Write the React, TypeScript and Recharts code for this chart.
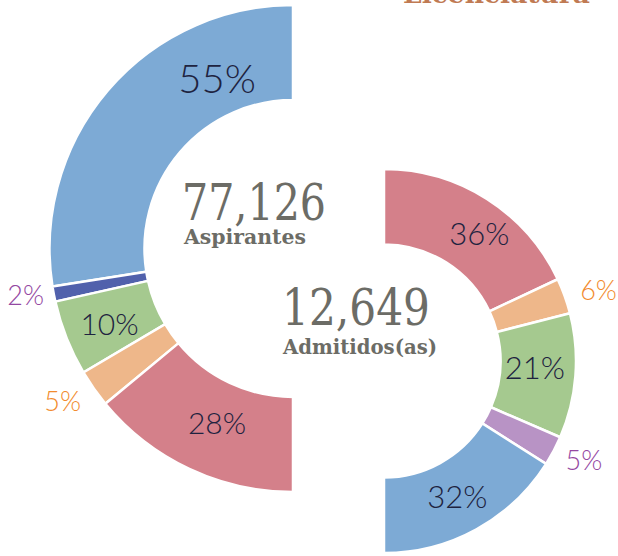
import React from 'react';
import { PieChart, Pie, Cell } from 'recharts';

// ---- Data ----
const aspirantesCategorias = ['Grupo 1', 'Grupo 2', 'Grupo 3', 'Grupo 4', 'Grupo 5'];
const aspirantesValores = [55, 2, 10, 5, 28];
const aspirantesColores = ['#7DAAD5', '#5161AC', '#A5C98F', '#EEB78A', '#D4808A'];

const admitidosCategorias = ['Grupo 5', 'Grupo 4', 'Grupo 3', 'Grupo 6', 'Grupo 1'];
const admitidosValores = [36, 6, 21, 5, 32];
const admitidosColores = ['#D4808A', '#EEB78A', '#A5C98F', '#B893C5', '#7DAAD5'];

const totalAspirantes = '77,126';
const etiquetaAspirantes = 'Aspirantes';
const totalAdmitidos = '12,649';
const etiquetaAdmitidos = 'Admitidos(as)';
const titulo = 'Licenciatura';

const aspirantesData = aspirantesCategorias.map((name, i) => ({ name, value: aspirantesValores[i] }));
const admitidosData = admitidosCategorias.map((name, i) => ({ name, value: admitidosValores[i] }));

// ---- Style ----
const RAD = Math.PI / 180;
const LABEL_FONT = 'Lato, "Open Sans", sans-serif';
const SERIF = '"DejaVu Serif", serif';
const INSIDE_COLOR = '#1E2340';
const PURPLE_TEXT = '#9448A2';
const ORANGE_TEXT = '#F28B2E';
const CENTER_GRAY = '#6C6C66';

type LabelStyle = { angle: number; dr: number; size: number; color: string };

// label placement (angle in degrees, radial offset from the ring's outer edge)
const leftLabelStyle: LabelStyle[] = [
  { angle: 114, dr: -57, size: 40, color: INSIDE_COLOR },
  { angle: 190, dr: 28, size: 27, color: PURPLE_TEXT },
  { angle: 202.4, dr: -45, size: 30, color: INSIDE_COLOR },
  { angle: 213.6, dr: 33, size: 27, color: ORANGE_TEXT },
  { angle: 246.5, dr: -53, size: 30, color: INSIDE_COLOR },
];
const rightLabelStyle: LabelStyle[] = [
  { angle: 53.2, dr: -33, size: 31, color: INSIDE_COLOR },
  { angle: 18.3, dr: 34, size: 27, color: ORANGE_TEXT },
  { angle: -2.7, dr: -41, size: 31, color: INSIDE_COLOR },
  { angle: -26.3, dr: 31, size: 27, color: PURPLE_TEXT },
  { angle: -61.6, dr: -38, size: 31, color: INSIDE_COLOR },
];

function makeLabel(styles: LabelStyle[]) {
  return (props: any) => {
    const { cx, cy, outerRadius, value, index } = props;
    const s = styles[index];
    const r = outerRadius + s.dr;
    const x = cx + r * Math.cos(-s.angle * RAD);
    const y = cy + r * Math.sin(-s.angle * RAD);
    return (
      <text
        x={x}
        y={y + s.size * 0.36}
        textAnchor="middle"
        fill={s.color}
        fontFamily={LABEL_FONT}
        fontWeight={300}
        fontSize={s.size}
      >
        {`${value}%`}
      </text>
    );
  };
}

const leftLabel = makeLabel(leftLabelStyle);
const rightLabel = makeLabel(rightLabelStyle);

export default function App() {
  return (
    <div style={{ position: 'absolute', left: 0, top: 0, width: 618, height: 556, background: '#fff' }}>
      <PieChart width={618} height={556} margin={{ top: 0, right: 0, bottom: 0, left: 0 }}>
        <Pie
          data={aspirantesData}
          dataKey="value"
          nameKey="name"
          cx={293}
          cy={248.5}
          innerRadius={148.5}
          outerRadius={243.5}
          startAngle={90}
          endAngle={270}
          stroke="#ffffff"
          strokeWidth={2.5}
          labelLine={false}
          label={leftLabel}
          isAnimationActive={false}
        >
          {aspirantesData.map((d, i) => (
            <Cell key={d.name + i} fill={aspirantesColores[i]} />
          ))}
        </Pie>
        <Pie
          data={admitidosData}
          dataKey="value"
          nameKey="name"
          cx={384}
          cy={361}
          innerRadius={116.5}
          outerRadius={192}
          startAngle={90}
          endAngle={-90}
          stroke="#ffffff"
          strokeWidth={2.5}
          labelLine={false}
          label={rightLabel}
          isAnimationActive={false}
        >
          {admitidosData.map((d, i) => (
            <Cell key={d.name + i} fill={admitidosColores[i]} />
          ))}
        </Pie>
      </PieChart>
      <svg
        width={618}
        height={556}
        style={{ position: 'absolute', left: 0, top: 0, pointerEvents: 'none' }}
      >
        <text x={403} y={3} fontFamily={SERIF} fontWeight="bold" fontSize={24} fill="#C07A53"
          textLength={187} lengthAdjust="spacingAndGlyphs">{titulo}</text>
        <text x={182} y={220} fontFamily={SERIF} fontSize={50} fill={CENTER_GRAY}
          textLength={144} lengthAdjust="spacingAndGlyphs">{totalAspirantes}</text>
        <text x={184} y={244} fontFamily={SERIF} fontWeight="bold" fontSize={20} fill={CENTER_GRAY}
          textLength={122} lengthAdjust="spacingAndGlyphs">{etiquetaAspirantes}</text>
        <text x={282} y={325} fontFamily={SERIF} fontSize={50} fill={CENTER_GRAY}
          textLength={148} lengthAdjust="spacingAndGlyphs">{totalAdmitidos}</text>
        <text x={283} y={354} fontFamily={SERIF} fontWeight="bold" fontSize={21} fill={CENTER_GRAY}
          textLength={154} lengthAdjust="spacingAndGlyphs">{etiquetaAdmitidos}</text>
      </svg>
    </div>
  );
}
